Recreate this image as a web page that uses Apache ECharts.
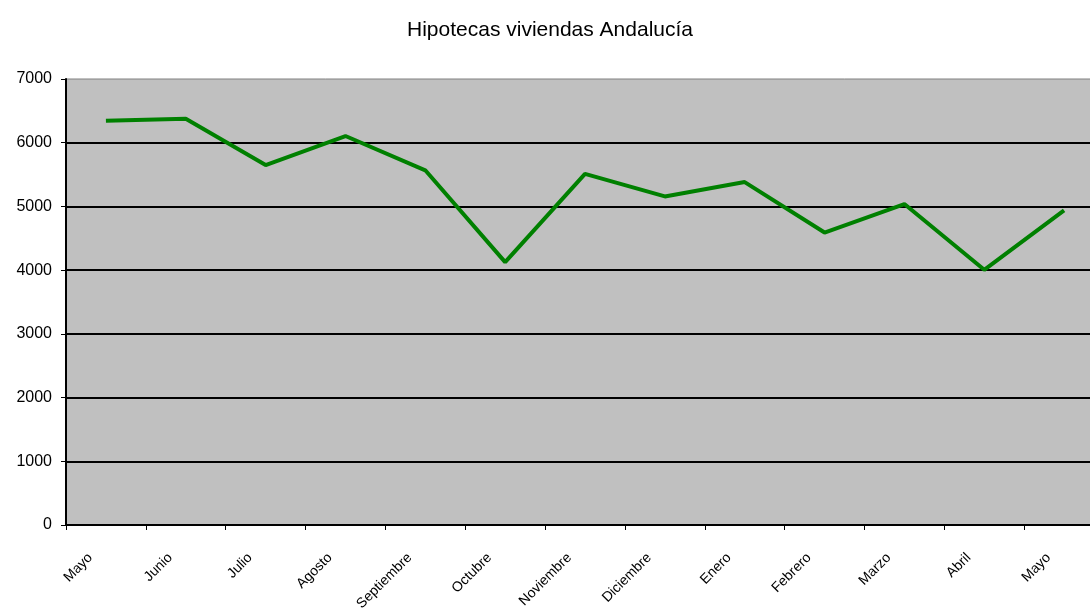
<!DOCTYPE html>
<html>
<head>
<meta charset="utf-8">
<script src="https://cdn.jsdelivr.net/npm/echarts@6/dist/echarts.min.js"></script>
<style>
html,body{margin:0;padding:0;background:#fff;overflow:hidden;width:1090px;height:608px;}
#chart{width:1104px;height:608px;}
</style>
</head>
<body>
<div id="chart"></div>
<script>
const title = 'Hipotecas viviendas Andalucía';
const categories = ['Mayo','Junio','Julio','Agosto','Septiembre','Octubre','Noviembre','Diciembre','Enero','Febrero','Marzo','Abril','Mayo'];
const hipotecas = [6345, 6376, 5650, 6105, 5567, 4125, 5512, 5157, 5382, 4590, 5037, 4005, 4937];
const yTicks = [0, 1000, 2000, 3000, 4000, 5000, 6000, 7000];

const chart = echarts.init(document.getElementById('chart'), null, {renderer:'canvas'});
chart.setOption({
  animation: false,
  backgroundColor: '#ffffff',
  title: {
    text: title,
    left: 402,
    top: 15,
    textStyle: {fontFamily: '"Liberation Sans", Arial, sans-serif', fontSize: 21, fontWeight: 'normal', color: '#000'}
  },
  grid: {
    left: 66, top: 79, right: 0, bottom: 83,
    containLabel: false, outerBoundsMode: 'none',
    show: true, backgroundColor: '#c0c0c0', borderColor: '#808080', borderWidth: 1
  },
  xAxis: {
    type: 'category',
    data: categories,
    boundaryGap: true,
    axisLine: {lineStyle: {color: '#000', width: 2}},
    axisTick: {show: true, length: 5, lineStyle: {color: '#000', width: 1}},
    axisLabel: {
      rotate: 45, interval: 0, margin: 15, padding: [0, 22, 0, 0],
      fontFamily: '"Liberation Sans", Arial, sans-serif',
      fontSize: 14, color: '#000'
    }
  },
  yAxis: {
    type: 'value',
    min: yTicks[0], max: yTicks[yTicks.length - 1], interval: 1000,
    axisLine: {show: true, lineStyle: {color: '#000', width: 2}},
    axisTick: {show: true, length: 5, lineStyle: {color: '#000', width: 1}},
    axisLabel: {margin: 14, fontFamily: '"Liberation Sans", Arial, sans-serif', fontSize: 16, color: '#000',
      formatter: function (v) { return String(v); }},
    splitLine: {show: true, showMaxLine: false, showMinLine: false, lineStyle: {color: '#000', width: 2}}
  },
  series: [{
    type: 'line',
    data: hipotecas,
    symbol: 'none',
    lineStyle: {color: '#008000', width: 4},
    z: 5
  }]
});
</script>
</body>
</html>
